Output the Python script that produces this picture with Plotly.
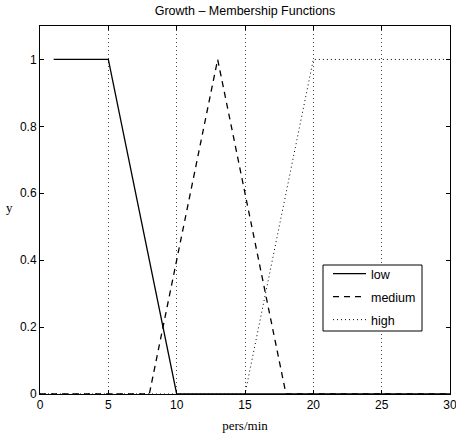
import plotly.graph_objects as go

low_x = [1, 5, 10, 30]
low_y = [1, 1, 0, 0]
med_x = [0, 8, 13, 18, 30]
med_y = [0, 0, 1, 0, 0]
high_x = [0, 15, 20, 30]
high_y = [0, 0, 1, 1]
x_ticks = [0, 5, 10, 15, 20, 25, 30]
y_ticks = [0, 0.2, 0.4, 0.6, 0.8, 1]
y_tick_labels = ["0", "0.2", "0.4", "0.6", "0.8", "1"]

PL, PR, PT, PB = 40, 450, 26, 394  # plot area in pixels
def px(x):
    return (x - PL) / (PR - PL)
def py(y):
    return (PB - y) / (PB - PT)

fig = go.Figure()
fig.add_trace(go.Scatter(x=low_x, y=low_y, mode="lines", name="low", legend="legend",
                         line=dict(color="black", width=1.3, dash="solid")))
fig.add_trace(go.Scatter(x=med_x, y=med_y, mode="lines", name="medium", legend="legend2",
                         line=dict(color="black", width=1.3, dash="6px,5px")))
fig.add_trace(go.Scatter(x=high_x, y=high_y, mode="lines", name="high", legend="legend3",
                         line=dict(color="black", width=1, dash="1px,3px")))

axis_common = dict(showline=True, linecolor="black", linewidth=1, mirror="ticks",
                   ticks="inside", ticklen=4, tickcolor="black", zeroline=False,
                   automargin=False, ticklabeloverflow="allow",
                   tickfont=dict(family="Arial, Liberation Sans", size=12, color="black"))

leg_common = dict(xanchor="left", yanchor="middle", borderwidth=0, bgcolor="rgba(0,0,0,0)",
                  font=dict(family="Arial, Liberation Sans", size=12.5, color="black"),
                  itemwidth=33)

fig.update_layout(
    width=456, height=443,
    margin=dict(l=PL, r=456 - PR, t=PT, b=443 - PB, autoexpand=False),
    paper_bgcolor="white", plot_bgcolor="white",
    title=dict(text="Growth \u2013 Membership Functions", x=0.5, xanchor="center", xref="paper",
               y=1 - 11 / 443, yanchor="middle", automargin=False,
               font=dict(family="Arial, Liberation Sans", size=12.5, color="black")),
    xaxis=dict(range=[0, 30], tickvals=x_ticks, showgrid=True, gridcolor="#444444",
               griddash="1px,3px", gridwidth=1,
               title=dict(text="pers/min", standoff=9,
                          font=dict(family="Liberation Serif, Times New Roman", size=13, color="black")),
               **axis_common),
    yaxis=dict(range=[0, 1.1], tickvals=y_ticks, ticktext=y_tick_labels, showgrid=False,
               **axis_common),
    showlegend=True,
    legend=dict(x=px(328), y=py(274), **leg_common),
    legend2=dict(x=px(328), y=py(297), **leg_common),
    legend3=dict(x=px(328), y=py(320), **leg_common),
    shapes=[dict(type="rect", xref="paper", yref="paper", layer="above",
                 x0=px(323), x1=px(422), y0=py(331), y1=py(265),
                 line=dict(color="black", width=1), fillcolor="white")],
    annotations=[dict(text="y", xref="paper", yref="paper", x=px(0), y=py(207),
                      xanchor="left", yanchor="middle", showarrow=False, xshift=4,
                      font=dict(family="Liberation Serif, Times New Roman", size=13, color="black"))],
)

fig.write_html("out.html", config={"displayModeBar": False},
               post_script="document.body.style.margin='0';document.body.style.overflow='hidden';")
